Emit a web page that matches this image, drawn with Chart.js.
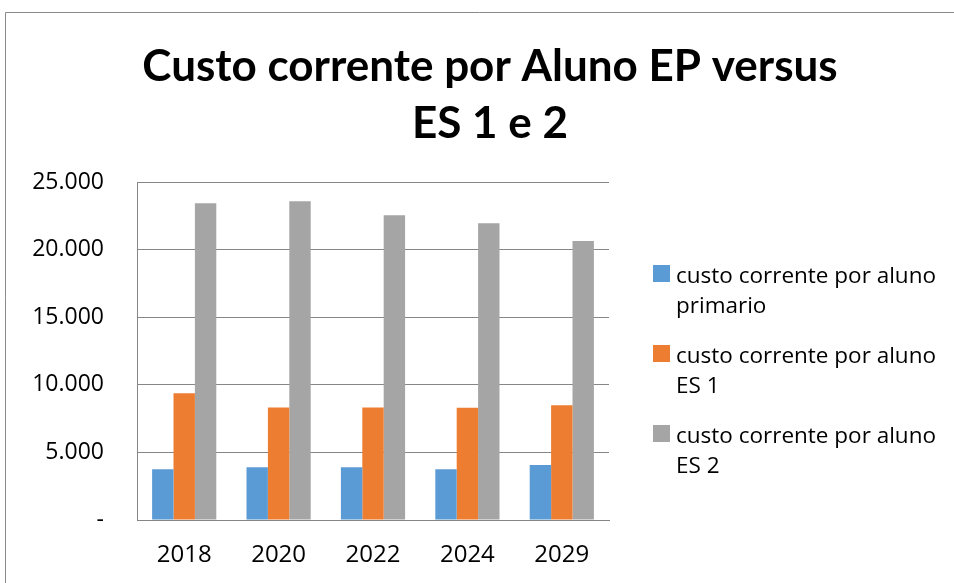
<!DOCTYPE html>
<html>
<head>
<meta charset="utf-8">
<script src="https://cdn.jsdelivr.net/npm/chart.js@4.4.1/dist/chart.umd.min.js"></script>
<style>
  html, body { margin: 0; padding: 0; background: #fff; overflow: hidden; }
  canvas { display: block; }
</style>
</head>
<body>
<canvas id="c" width="954" height="583"></canvas>
<script>
const categories = ['2018', '2020', '2022', '2024', '2029'];
const seriesNames = [
  ['custo corrente por aluno', 'primario'],
  ['custo corrente por aluno', 'ES 1'],
  ['custo corrente por aluno', 'ES 2']
];
const primario = [3750, 3900, 3900, 3750, 4070];
const es1 = [9370, 8330, 8330, 8310, 8480];
const es2 = [23430, 23570, 22540, 21950, 20640];
const yTicks = [0, 5000, 10000, 15000, 20000, 25000];
const titleLines = ['Custo corrente por Aluno EP versus', 'ES 1 e 2'];
const colors = ['#5B9BD5', '#ED7D31', '#A5A5A5'];

function fmt(v) {
  if (v === 0) return '-';
  return String(v).replace(/\B(?=(\d{3})+(?!\d))/g, '.');
}

const overlay = {
  id: 'overlay',
  beforeDraw(chart) {
    const ctx = chart.ctx;
    ctx.save();
    ctx.strokeStyle = '#8a8a8a';
    ctx.lineWidth = 1;
    ctx.beginPath();
    ctx.moveTo(5.5, chart.height);
    ctx.lineTo(5.5, 12.5);
    ctx.lineTo(chart.width, 12.5);
    ctx.stroke();
    ctx.restore();
  },
  afterDraw(chart) {
    const ctx = chart.ctx;
    ctx.save();
    ctx.fillStyle = '#000';
    ctx.font = 'bold 44px Lato';
    ctx.textAlign = 'center';
    ctx.textBaseline = 'alphabetic';
    ctx.fillText(titleLines[0], 490, 81);
    ctx.fillText(titleLines[1], 490, 138);
    ctx.font = '22.5px "Open Sans"';
    ctx.textAlign = 'left';
    chart.data.datasets.forEach((ds, i) => {
      const y0 = 265 + 80 * i;
      ctx.fillStyle = ds.backgroundColor;
      ctx.fillRect(653, y0, 17, 17);
      ctx.fillStyle = '#000';
      seriesNames[i].forEach((t, j) => ctx.fillText(t, 676, 283 + 80 * i + 30 * j));
    });
    ctx.restore();
  }
};

new Chart(document.getElementById('c'), {
  type: 'bar',
  data: {
    labels: categories,
    datasets: seriesNames.map((n, i) => ({
      label: n.join(' '),
      data: [primario, es1, es2][i],
      backgroundColor: colors[i],
      borderWidth: 0,
      categoryPercentage: 0.68,
      barPercentage: 1.0
    }))
  },
  options: {
    responsive: false,
    animation: false,
    layout: { padding: { top: 182, left: 0, right: 345, bottom: 0 } },
    plugins: {
      legend: { display: false },
      title: { display: false },
      tooltip: { enabled: false }
    },
    scales: {
      x: {
        afterFit(scale) { scale.height = 63; },
        grid: { display: false, drawTicks: false },
        border: { display: true, color: '#868686', width: 1 },
        ticks: { color: '#000', font: { family: 'Open Sans', size: 24 }, padding: 21, maxRotation: 0 }
      },
      y: {
        min: 0, max: 25000,
        afterFit(scale) { scale.width = 137; },
        afterBuildTicks(scale) { scale.ticks = yTicks.map(v => ({ value: v })); },
        grid: { color: '#868686', lineWidth: 1, drawTicks: false },
        border: { display: true, color: '#868686', width: 1 },
        ticks: { color: '#000', font: { family: 'Open Sans', size: 23 }, padding: 33, callback: (v) => fmt(v) }
      }
    }
  },
  plugins: [overlay]
});
</script>
</body>
</html>
